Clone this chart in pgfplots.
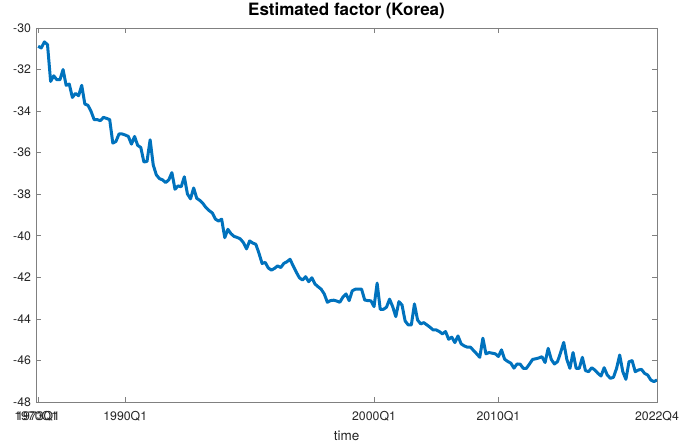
\documentclass[border=0pt]{standalone}
\usepackage{pgfplots}
\pgfplotsset{compat=1.18}
\usepackage{fontspec}
\setmainfont{TeX Gyre Heros}
\definecolor{mblue}{RGB}{0,114,189}
\definecolor{axgray}{RGB}{128,128,128}
\definecolor{txt}{RGB}{38,38,38}
\begin{document}
\begin{tikzpicture}
\useasboundingbox (0,0) rectangle (679pt,444pt);
\begin{axis}[
  at={(36pt,42pt)}, anchor=south west,
  width=621pt, height=374pt, scale only axis,
  xmin=0.3, xmax=200, ymin=-48, ymax=-30,
  ytick={-48,-46,...,-30},
  xtick={1,29,109,149,200},
  xticklabels={1973Q1,1990Q1,2000Q1,2010Q1,2022Q4},
  extra x ticks={1},
  extra x tick labels={1970Q1},
  extra x tick style={xticklabel style={xshift=-2pt}},
  /pgf/number format/assume math mode=true,
  tick align=inside,
  major tick length=5pt,
  axis line style={axgray, line width=0.6pt},
  tick style={axgray, line width=0.6pt},
  xtick pos=both, ytick pos=both,
  tick label style={font=\fontsize{12.3}{14}\selectfont, text=txt},
  xticklabel style={anchor=base, yshift=-18.7pt},
  yticklabel style={anchor=east, xshift=-1.5pt},
  title={\textbf{Estimated factor (Korea)}},
  title style={at={(0.5,1)}, anchor=base, yshift=6.3pt, font=\fontsize{17}{20}\selectfont},
  xlabel={time},
  xlabel style={at={(0.5,0)}, anchor=base, yshift=-38pt, font=\fontsize{13.5}{16}\selectfont, text=txt},
]
\addplot[mblue, line width=3pt, line join=round] table {
x y
1 -30.88
2 -30.96
3 -30.67
4 -30.80
5 -32.57
6 -32.30
7 -32.49
8 -32.49
9 -32.00
10 -32.76
11 -32.70
12 -33.34
13 -33.15
14 -33.26
15 -32.76
16 -33.66
17 -33.72
18 -34.01
19 -34.41
20 -34.41
21 -34.46
22 -34.30
23 -34.35
24 -34.41
25 -35.54
26 -35.46
27 -35.10
28 -35.10
29 -35.15
30 -35.22
31 -35.59
32 -35.22
33 -35.65
34 -35.75
35 -36.45
36 -36.42
37 -35.38
38 -36.59
39 -37.07
40 -37.25
41 -37.31
42 -37.44
43 -37.31
44 -36.96
45 -37.76
46 -37.60
47 -37.64
48 -37.16
49 -37.99
50 -38.22
51 -37.70
52 -38.20
53 -38.30
54 -38.45
55 -38.65
56 -38.79
57 -38.90
58 -39.20
59 -39.29
60 -39.20
61 -40.09
62 -39.69
63 -39.90
64 -40.03
65 -40.08
66 -40.15
67 -40.33
68 -40.63
69 -40.25
70 -40.35
71 -40.41
72 -40.84
73 -41.33
74 -41.28
75 -41.55
76 -41.65
77 -41.57
78 -41.45
79 -41.53
80 -41.33
81 -41.25
82 -41.13
83 -41.45
84 -41.75
85 -42.02
86 -42.13
87 -41.97
88 -42.21
89 -42.02
90 -42.32
91 -42.45
92 -42.57
93 -42.80
94 -43.20
95 -43.12
96 -43.10
97 -43.14
98 -43.20
99 -42.95
100 -42.80
101 -43.12
102 -42.65
103 -42.57
104 -42.57
105 -42.57
106 -43.09
107 -43.12
108 -43.13
109 -43.41
110 -42.28
111 -43.54
112 -43.54
113 -43.44
114 -43.05
115 -43.41
116 -43.89
117 -43.17
118 -43.33
119 -44.10
120 -44.29
121 -44.29
122 -43.28
123 -44.05
124 -44.24
125 -44.18
126 -44.29
127 -44.40
128 -44.53
129 -44.53
130 -44.61
131 -44.72
132 -44.61
133 -44.98
134 -44.88
135 -45.14
136 -44.82
137 -45.20
138 -45.30
139 -45.36
140 -45.36
141 -45.52
142 -45.68
143 -45.85
144 -44.93
145 -45.68
146 -45.62
147 -45.65
148 -45.68
149 -45.81
150 -45.49
151 -45.94
152 -46.05
153 -46.13
154 -46.37
155 -46.17
156 -46.18
157 -46.38
158 -46.38
159 -46.17
160 -45.95
161 -45.92
162 -45.88
163 -45.82
164 -46.10
165 -45.42
166 -45.95
167 -46.17
168 -46.06
169 -45.62
170 -45.13
171 -45.95
172 -46.38
173 -45.62
174 -46.38
175 -46.38
176 -45.85
177 -46.49
178 -46.54
179 -46.35
180 -46.46
181 -46.62
182 -46.75
183 -46.35
184 -46.70
185 -46.86
186 -46.81
187 -46.38
188 -45.74
189 -46.54
190 -46.91
191 -46.06
192 -46.01
193 -46.54
194 -46.46
195 -46.43
196 -46.62
197 -46.70
198 -46.94
199 -47.02
200 -46.94
};
\end{axis}
\end{tikzpicture}
\end{document}
